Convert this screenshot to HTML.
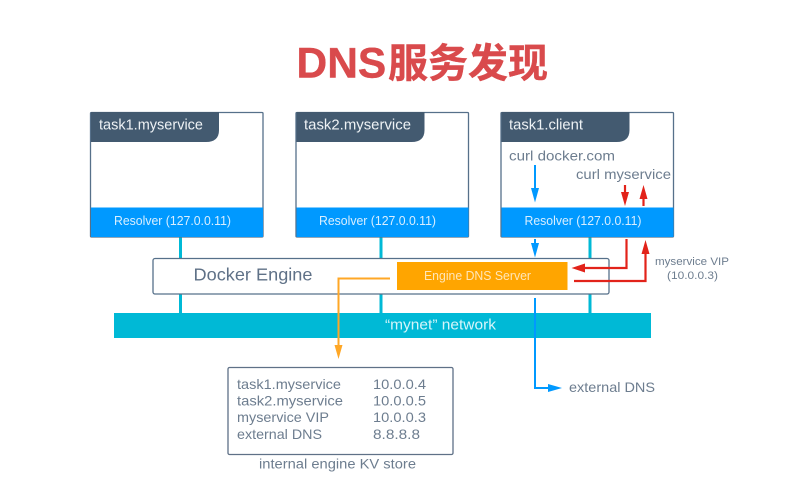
<!DOCTYPE html>
<html><head><meta charset="utf-8"><style>
html,body{margin:0;padding:0;background:#fff}
svg{display:block;filter:blur(0.35px)}
text{font-family:"Liberation Sans","Noto Sans CJK SC",sans-serif}
.g{fill:#6d7d8f}.d{fill:#5f7187}
</style></head><body>
<svg width="810" height="503" viewBox="0 0 810 503" xmlns="http://www.w3.org/2000/svg">
<rect width="810" height="503" fill="#fff"/>
<text x="296.500" y="77.500" font-size="42.500" font-weight="700" fill="#d94a4c" stroke="#d94a4c" stroke-width="0.400">DNS</text>
<text x="388" y="77" font-size="40" font-weight="700" fill="#d94a4c" stroke="#d94a4c" stroke-width="0.400">服务发现</text>

<!-- connectors behind -->
<g stroke="#00b9d6" stroke-width="3" fill="none">
<path d="M180.500 237V258M180.500 294V314M381 237V258M381 294V314M590 237V258M590 294V314"/>
</g>

<!-- task boxes -->
<g stroke="#56708a" stroke-width="1.300" fill="#fff">
<rect x="90.500" y="112.500" width="172.500" height="124.500" rx="1"/>
<rect x="296" y="112.500" width="172.500" height="124.500" rx="1"/>
<rect x="501" y="112.500" width="172.500" height="124.500" rx="1"/>
</g>
<g fill="#0099ff">
<rect x="91" y="207.500" width="172" height="29.500"/>
<rect x="296.500" y="207.500" width="172" height="29.500"/>
<rect x="501.500" y="207.500" width="172" height="29.500"/>
</g>
<g fill="#435a70">
<path d="M91 112H219V130Q219 142 206 142H91Z"/>
<path d="M296.500 112H424.500V130Q424.500 142 411.500 142H296.500Z"/>
<path d="M501.500 112H629.500V130Q629.500 142 616.500 142H501.500Z"/>
</g>
<g font-size="14.500" fill="#eef2f5">
<text x="99" y="129.500" textLength="104" lengthAdjust="spacingAndGlyphs">task1.myservice</text>
<text x="304" y="129.500" textLength="107" lengthAdjust="spacingAndGlyphs">task2.myservice</text>
<text x="509" y="129.500" textLength="74" lengthAdjust="spacingAndGlyphs">task1.client</text>
</g>
<g font-size="13" fill="#d8eeff">
<text x="114" y="225" textLength="117" lengthAdjust="spacingAndGlyphs">Resolver (127.0.0.11)</text>
<text x="319" y="225" textLength="117" lengthAdjust="spacingAndGlyphs">Resolver (127.0.0.11)</text>
<text x="524.500" y="225" textLength="117" lengthAdjust="spacingAndGlyphs">Resolver (127.0.0.11)</text>
</g>
<text class="g" x="509" y="160.500" font-size="14" textLength="106" lengthAdjust="spacingAndGlyphs">curl docker.com</text>
<text class="g" x="576" y="179" font-size="14" textLength="95" lengthAdjust="spacingAndGlyphs">curl myservice</text>

<!-- engine -->
<rect x="153" y="258.500" width="456" height="35.500" rx="2" fill="#fff" stroke="#56708a" stroke-width="1.300"/>
<text class="d" x="193.500" y="280.500" font-size="17.500" textLength="119" lengthAdjust="spacingAndGlyphs">Docker Engine</text>
<rect x="397" y="262" width="170.500" height="28" fill="#ffa500"/>
<text x="424" y="280" font-size="13" fill="#ffe6b8" textLength="107" lengthAdjust="spacingAndGlyphs">Engine DNS Server</text>

<!-- network -->
<rect x="114" y="313" width="537" height="25" fill="#00b9d6"/>
<text x="385" y="329.500" font-size="14.500" fill="#d5f5fa" textLength="111" lengthAdjust="spacingAndGlyphs">“mynet” network</text>

<!-- blue -->
<g stroke="#0099ff" stroke-width="2" fill="none">
<path d="M535 165V192"/>
<path d="M535 239V247"/>
<path d="M535 298V388H550"/>
</g>
<g fill="#0099ff">
<path d="M531 188H539L535 202.500Z"/>
<path d="M531 243H539L535 257.500Z"/>
<path d="M548 384V392L562 388Z"/>
</g>

<!-- red -->
<g stroke="#e2231a" stroke-width="2.200" fill="none">
<path d="M625 185V197"/>
<path d="M643.500 194V206"/>
<path d="M626.500 239V268H584"/>
<path d="M574 281H645.500V250"/>
</g>
<g fill="#e2231a">
<path d="M621 192H629L625 206Z"/>
<path d="M639.500 199H647.500L643.500 185Z"/>
<path d="M585 263.500V272.500L571.500 268Z"/>
<path d="M641.500 254H649.500L645.500 240Z"/>
</g>

<!-- orange -->
<path d="M390 278.500H338.500V348" stroke="#ffa726" stroke-width="2" fill="none"/>
<path d="M334.500 345H342.500L338.500 359Z" fill="#ffa726"/>

<!-- labels -->
<text class="g" x="655" y="265" font-size="11" textLength="74" lengthAdjust="spacingAndGlyphs">myservice VIP</text>
<text class="g" x="667" y="279" font-size="11" textLength="51" lengthAdjust="spacingAndGlyphs">(10.0.0.3)</text>
<text class="g" x="569" y="392" font-size="14" textLength="86" lengthAdjust="spacingAndGlyphs">external DNS</text>

<!-- KV -->
<rect x="228" y="367.500" width="225" height="87" rx="1.500" fill="#fff" stroke="#5f7187" stroke-width="1.300"/>
<g class="g" font-size="14">
<text x="237" y="389" textLength="104" lengthAdjust="spacingAndGlyphs">task1.myservice</text>
<text x="237" y="405.500" textLength="106" lengthAdjust="spacingAndGlyphs">task2.myservice</text>
<text x="237" y="422" textLength="92" lengthAdjust="spacingAndGlyphs">myservice VIP</text>
<text x="237" y="439" textLength="85" lengthAdjust="spacingAndGlyphs">external DNS</text>
<text x="373" y="389" textLength="53" lengthAdjust="spacingAndGlyphs">10.0.0.4</text>
<text x="373" y="405.500" textLength="53" lengthAdjust="spacingAndGlyphs">10.0.0.5</text>
<text x="373" y="422" textLength="53" lengthAdjust="spacingAndGlyphs">10.0.0.3</text>
<text x="373" y="439" textLength="47" lengthAdjust="spacingAndGlyphs">8.8.8.8</text>
</g>
<text class="g" x="259" y="468.500" font-size="13.500" textLength="157" lengthAdjust="spacingAndGlyphs">internal engine KV store</text>
</svg>
</body></html>
